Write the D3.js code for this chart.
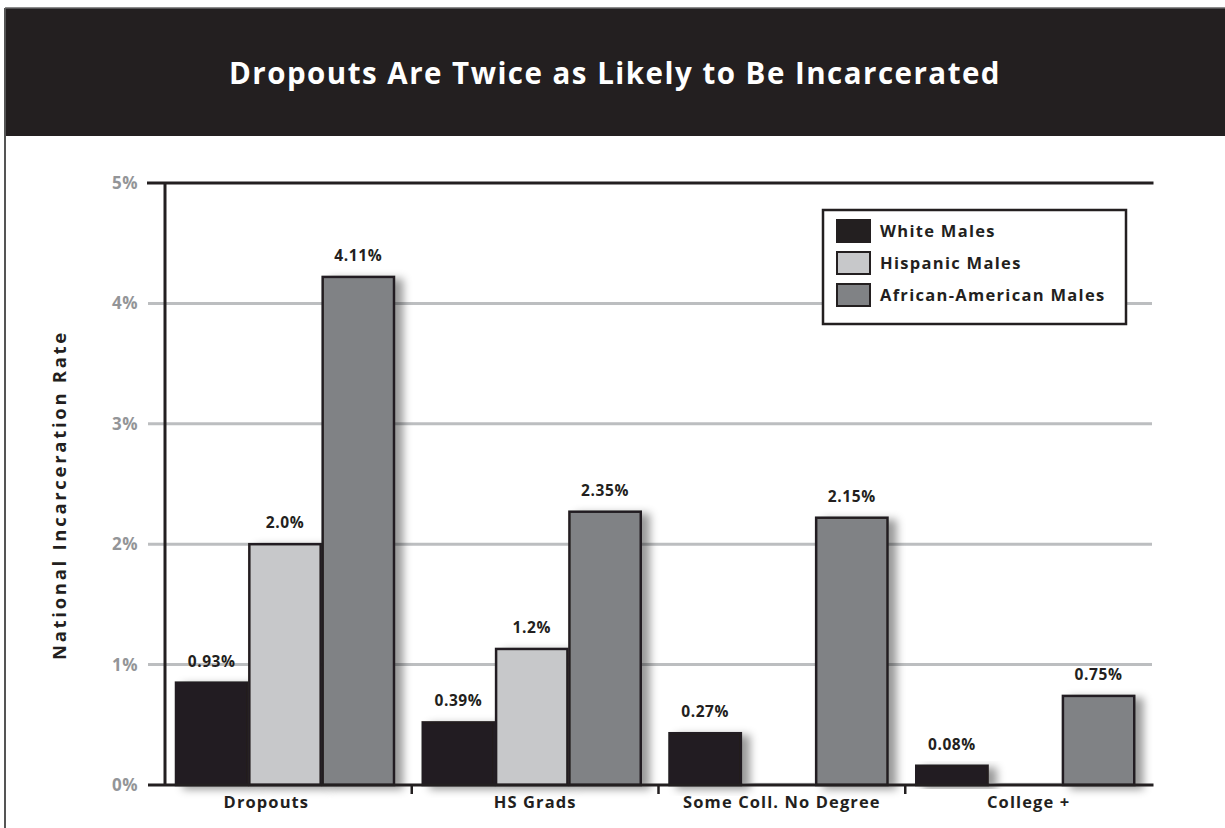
<!DOCTYPE html>
<html>
<head>
<meta charset="utf-8">
<script src="https://cdn.jsdelivr.net/npm/d3@7"></script>
<style>
  html, body { margin: 0; padding: 0; background: #fff; }
  svg { display: block; }
  text { font-family: "Open Sans", Lato, sans-serif; font-weight: 700; }
</style>
</head>
<body>
<svg id="chart" width="1225" height="828"></svg>
<script>
// ---- data ----
const title = "Dropouts Are Twice as Likely to Be Incarcerated";
const yAxisTitle = "National Incarceration Rate";
const categories = ["Dropouts", "HS Grads", "Some Coll. No Degree", "College+"];
const series = ["White Males", "Hispanic Males", "African-American Males"];
// bar heights as drawn (percent)
const whiteValues    = [0.85, 0.52, 0.43, 0.16];
const hispanicValues = [2.0, 1.13, 0, 0];
const africanValues  = [4.22, 2.27, 2.22, 0.74];
// printed value labels
const whiteLabels    = ["0.93%", "0.39%", "0.27%", "0.08%"];
const hispanicLabels = ["2.0%", "1.2%", "", ""];
const africanLabels  = ["4.11%", "2.35%", "2.15%", "0.75%"];
const yTicks = [0, 1, 2, 3, 4, 5];
const yTickLabels = ["0%", "1%", "2%", "3%", "4%", "5%"];

const colors = ["#231f20", "#c7c8ca", "#808285"];
const dark = "#231f20";

const svg = d3.select("#chart");
const defs = svg.append("defs");
const f = defs.append("filter").attr("id", "shadow")
  .attr("x", "-20%").attr("y", "-20%").attr("width", "160%").attr("height", "140%");
f.append("feDropShadow").attr("dx", 8).attr("dy", 3).attr("stdDeviation", 4)
  .attr("flood-color", "#000").attr("flood-opacity", 0.4);

// fit helper: adjust letter-spacing so the text spans a target width
function fit(sel, target) {
  sel.each(function () {
    const n = this.getNumberOfChars();
    const w = this.getComputedTextLength();
    const cur = parseFloat(this.getAttribute("letter-spacing") || 0);
    if (n > 1) this.setAttribute("letter-spacing", cur + (target - w) / n);
  });
}

// frame + banner
svg.append("rect").attr("x", 5).attr("y", 8).attr("width", 1220).attr("height", 128).attr("fill", dark);
svg.append("line").attr("x1", 5).attr("x2", 5).attr("y1", 8).attr("y2", 828)
  .attr("stroke", "#555").attr("stroke-width", 2);
svg.append("line").attr("x1", 5).attr("x2", 1225).attr("y1", 8).attr("y2", 8)
  .attr("stroke", "#666").attr("stroke-width", 1.5);
svg.append("text").attr("x", 615).attr("y", 84).attr("text-anchor", "middle")
  .attr("fill", "#fff").attr("font-size", 29.5).text(title).call(fit, 772);

// scales
const pLeft = 165, pRight = 1152, pTop = 183, pBottom = 785;
const y = d3.scaleLinear().domain([0, 5]).range([pBottom, pTop]);
const x0 = d3.scaleBand().domain(categories).range([pLeft, pRight]);
const x1 = d3.scaleBand().domain(series).range([10, 230]);

// gridlines
svg.append("g").selectAll("line").data(yTicks.filter(t => t > 0 && t < 5)).join("line")
  .attr("x1", 148).attr("x2", pRight).attr("y1", d => y(d)).attr("y2", d => y(d))
  .attr("stroke", "#bcbec0").attr("stroke-width", 3);

// y tick labels
svg.append("g").selectAll("text").data(yTicks).join("text")
  .attr("x", 138).attr("y", d => y(d) + 6).attr("text-anchor", "end")
  .attr("fill", "#939598").attr("font-size", 17).attr("letter-spacing", 0.5)
  .text((d, i) => yTickLabels[i]);

// y axis title
svg.append("text").attr("transform", "translate(66,495) rotate(-90)")
  .attr("text-anchor", "middle").attr("fill", dark).attr("font-size", 18.5)
  .text(yAxisTitle).call(fit, 330);

// bars
const valueSets = [whiteValues, hispanicValues, africanValues];
const labelSets = [whiteLabels, hispanicLabels, africanLabels];
const barData = [];
categories.forEach((c, ci) => series.forEach((s, si) => {
  barData.push({ c, s, si, v: valueSets[si][ci], label: labelSets[si][ci] });
}));

const gBars = svg.append("g");
gBars.selectAll("rect").data(barData).join("rect")
  .attr("x", d => x0(d.c) + x1(d.s) + 1)
  .attr("width", x1.bandwidth() - 2)
  .attr("y", d => d.v > 0 ? y(d.v) : pBottom - 2)
  .attr("height", d => d.v > 0 ? pBottom - y(d.v) : 2)
  .attr("fill", d => colors[d.si])
  .attr("stroke", dark).attr("stroke-width", d => d.v > 0 ? 2.5 : 0)
  .attr("filter", "url(#shadow)");

// value labels
svg.append("g").selectAll("text").data(barData.filter(d => d.label)).join("text")
  .attr("x", d => x0(d.c) + x1(d.s) + x1.bandwidth() / 2)
  .attr("y", d => y(d.v) - 16)
  .attr("text-anchor", "middle").attr("fill", dark).attr("font-size", 15.5)
  .attr("letter-spacing", 0.6).text(d => d.label);

// axes frame
const axes = svg.append("g").attr("stroke", dark).attr("stroke-width", 3).attr("fill", "none");
axes.append("line").attr("x1", 147).attr("x2", pRight + 1.5).attr("y1", pTop).attr("y2", pTop);
axes.append("line").attr("x1", pRight).attr("x2", pRight).attr("y1", pTop).attr("y2", pBottom)
  .attr("filter", "url(#shadow)");
axes.append("line").attr("x1", pLeft).attr("x2", pLeft).attr("y1", pTop).attr("y2", pBottom);
axes.append("line").attr("x1", 148).attr("x2", pRight + 1.5).attr("y1", pBottom).attr("y2", pBottom);

// x ticks between groups
svg.append("g").selectAll("line").data(categories.slice(1)).join("line")
  .attr("x1", d => x0(d)).attr("x2", d => x0(d))
  .attr("y1", pBottom).attr("y2", pBottom + 9)
  .attr("stroke", dark).attr("stroke-width", 2.5);

// x labels
svg.append("g").selectAll("text").data(categories).join("text")
  .attr("x", (d, i) => x0(d) + x0.bandwidth() / 2 - (i === 0 ? 22 : 0))
  .attr("y", 808).attr("text-anchor", "middle").attr("fill", dark)
  .attr("font-size", 16.5).attr("letter-spacing", 1.1).text(d => d === "College+" ? "College +" : d);

// legend
const lg = svg.append("g").attr("transform", "translate(823,210)");
lg.append("rect").attr("width", 303).attr("height", 114).attr("fill", "#fff")
  .attr("stroke", dark).attr("stroke-width", 2.5);
const items = lg.selectAll("g").data(series).join("g")
  .attr("transform", (d, i) => `translate(14,${10 + i * 32})`);
items.append("rect").attr("width", 33).attr("height", 22)
  .attr("fill", (d, i) => colors[i]).attr("stroke", dark).attr("stroke-width", 2);
items.append("text").attr("x", 43).attr("y", 17).attr("fill", dark)
  .attr("font-size", 16.5).attr("letter-spacing", 1.3).text(d => d);
</script>
</body>
</html>
